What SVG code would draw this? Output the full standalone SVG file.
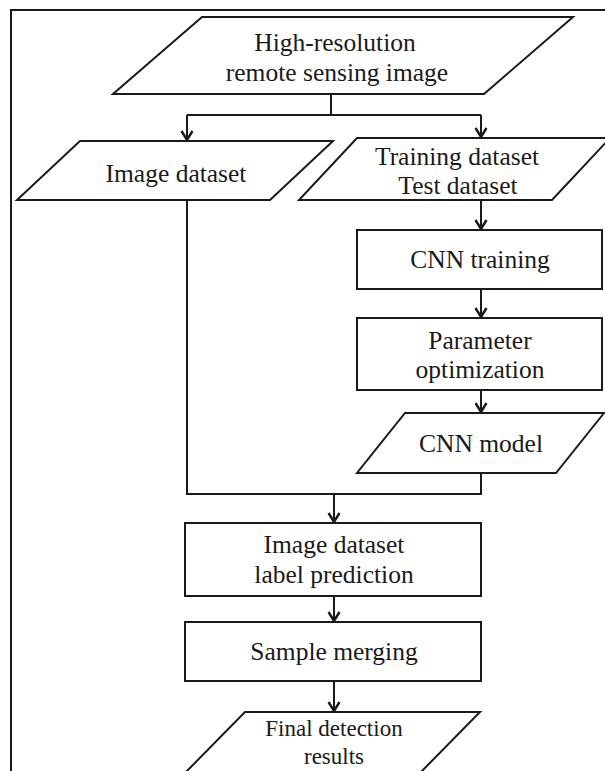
<svg xmlns="http://www.w3.org/2000/svg" width="605" height="771" viewBox="0 0 605 771">
  <style>
    .shape { fill: #ffffff; stroke: #1a1a1a; stroke-width: 2; }
    .edge { fill: none; stroke: #1a1a1a; stroke-width: 2; }
    .label { font-family: "Liberation Serif", "Times New Roman", serif; font-size: 25.5px; fill: #1a1a1a; text-anchor: middle; }
    .tight { font-size: 23px; }
  </style>
  <defs>
    <!-- open chevron head; drawn along +x so orient="auto" turns it with the line -->
    <marker id="arrow" markerUnits="userSpaceOnUse" markerWidth="14" markerHeight="14" viewBox="0 0 14 14" refX="12" refY="7" orient="auto">
      <path d="M3,1.5 L12,7 L3,12.5" fill="none" stroke="#1a1a1a" stroke-width="2.4" stroke-linejoin="miter"/>
    </marker>
  </defs>
  <rect width="605" height="771" fill="#ffffff"/>

  <!-- outer frame (only top and left edges fall inside the canvas) -->
  <rect x="11" y="10" width="620" height="800" fill="none" stroke="#1a1a1a" stroke-width="2"/>

  <g id="connectors">
    <!-- split from source image -->
    <path class="edge" d="M331,94 V115 M187,115 H481"/>
    <path class="edge" d="M187,115 V140" marker-end="url(#arrow)"/>
    <path class="edge" d="M481,115 V137" marker-end="url(#arrow)"/>
    <!-- training branch -->
    <path class="edge" d="M481,200 V229" marker-end="url(#arrow)"/>
    <path class="edge" d="M481,289 V317" marker-end="url(#arrow)"/>
    <path class="edge" d="M481,390 V412" marker-end="url(#arrow)"/>
    <!-- merge of both branches -->
    <path class="edge" d="M187,200 V494 H481 V473"/>
    <path class="edge" d="M334,494 V522" marker-end="url(#arrow)"/>
    <path class="edge" d="M334,596 V621" marker-end="url(#arrow)"/>
    <path class="edge" d="M334,681 V711" marker-end="url(#arrow)"/>
  </g>

  <g id="source-image">
    <polygon class="shape" points="202,17 573,17 484,94 113,94"/>
    <text class="label" x="335" y="51">High-resolution</text>
    <text class="label" x="337" y="81">remote sensing image</text>
  </g>

  <g id="image-dataset">
    <polygon class="shape" points="80,141 333,141 270,200 17,200"/>
    <text class="label" x="176" y="182">Image dataset</text>
  </g>

  <g id="training-dataset">
    <polygon class="shape" points="357,138 610,138 552,200 299,200"/>
    <text class="label" x="457" y="165">Training dataset</text>
    <text class="label" x="458" y="194">Test dataset</text>
  </g>

  <g id="cnn-training">
    <rect class="shape" x="357" y="230" width="245" height="59"/>
    <text class="label" x="480" y="268">CNN training</text>
  </g>

  <g id="parameter-optimization">
    <rect class="shape" x="357" y="318" width="245" height="72"/>
    <text class="label" x="480" y="349">Parameter</text>
    <text class="label" x="480" y="378">optimization</text>
  </g>

  <g id="cnn-model">
    <polygon class="shape" points="405,413 604,413 556,473 357,473"/>
    <text class="label" x="481" y="452">CNN model</text>
  </g>

  <g id="label-prediction">
    <rect class="shape" x="185" y="523" width="296" height="73"/>
    <text class="label" x="334" y="553">Image dataset</text>
    <text class="label" x="334" y="583">label prediction</text>
  </g>

  <g id="sample-merging">
    <rect class="shape" x="185" y="622" width="296" height="59"/>
    <text class="label" x="334" y="660">Sample merging</text>
  </g>

  <g id="final-results">
    <polygon class="shape" points="245,712 480,712 418,775 183,775"/>
    <text class="label tight" x="334" y="736">Final detection</text>
    <text class="label tight" x="334" y="764">results</text>
  </g>
</svg>
